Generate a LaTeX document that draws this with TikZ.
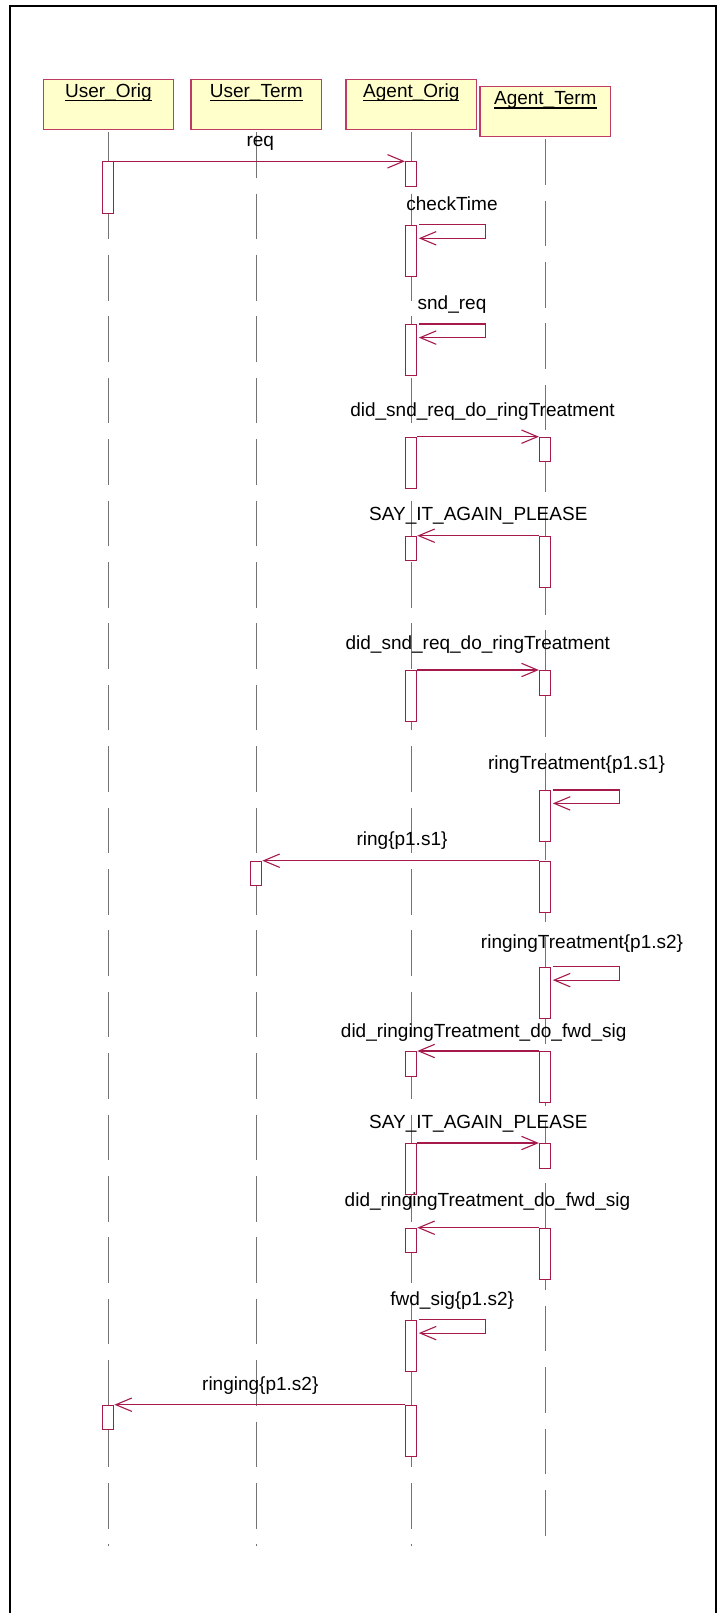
\documentclass[tikz,border=0pt]{standalone}
\usepackage{fontspec}
\setmainfont{Liberation Sans}
\usetikzlibrary{arrows.meta}
\definecolor{msgc}{RGB}{165,25,75}
\definecolor{hdrc}{RGB}{190,60,100}
\definecolor{hdrfill}{RGB}{255,255,204}
\definecolor{lifec}{RGB}{115,115,115}
\newcommand\myul[1]{\setbox0\hbox{#1}\rlap{\rule[-4.05pt]{\wd0}{1.3pt}}\box0}
\begin{document}
\begin{tikzpicture}[x=1pt,y=-1pt,
 hdr/.style={draw=hdrc,fill=hdrfill,line width=1.2pt,minimum width=130.6pt,minimum height=50.3pt,anchor=north,inner sep=0pt},
 lbl/.style={font=\fontsize{19}{22}\selectfont,anchor=base,inner sep=0pt,text=black},
 act/.style={draw=msgc,fill=white,line width=1pt,minimum width=11.4pt,anchor=north,inner sep=0pt},
 shortact/.style={act,minimum height=24.6pt},
 longact/.style={act,minimum height=51.3pt},
 life/.style={draw=lifec,line width=1.4pt,dash pattern=on 45.6pt off 15.8pt},
 msg/.style={draw=msgc,line width=1.1pt,-{Straight Barb[length=16pt,width=13.4pt]}},
 frame/.style={draw=black,line width=2pt}
]
\useasboundingbox (0,0) rectangle (717,1613);
% frame
\coordinate (f1) at (10,1613);
\coordinate (f2) at (10,6);
\coordinate (f3) at (716,6);
\coordinate (f4) at (716,1613);
\draw[frame] (f1) -- (f2) -- (f3) -- (f4);

% headers
\node[hdr] (uo) at (108.5,79) {};
\node[hdr] (ut) at (256.3,79) {};
\node[hdr] (ao) at (411.3,79) {};
\node[hdr] (at) at (545.3,85.7) {};
\node[lbl] (uot) at (108.5,97.3) {\myul{User\_Orig}};
\node[lbl] (utt) at (256.3,97.3) {\myul{User\_Term}};
\node[lbl] (aot) at (411.3,97.3) {\myul{Agent\_Orig}};
\node[lbl] (att) at (545.3,104.5) {\myul{Agent\_Term}};

% lifelines
\coordinate (uoe) at (108.5,1546);
\coordinate (ute) at (256.3,1546);
\coordinate (aoe) at (411.3,1546);
\coordinate (ate) at (545.3,1537);
\draw[life] (uo.south) ++(0,1.7) -- (uoe);
\draw[life] (ut.south) ++(0,1.7) -- (ute);
\draw[life] (ao.south) ++(0,1.7) -- (aoe);
\draw[life] (at.south) ++(0,2) -- (ate);

% activations: User_Orig
\node[longact] (a1) at (108.2,161.3) {};
\node[shortact] (a2) at (108.2,1404.7) {};
% User_Term
\node[shortact] (b1) at (256.1,860.7) {};
% Agent_Orig
\node[shortact] (c1) at (411.1,161.3) {};
\node[longact] (c2) at (411.1,224.7) {};
\node[longact] (c3) at (411.1,324) {};
\node[longact] (c4) at (411.1,436.7) {};
\node[shortact] (c5) at (411.1,535.7) {};
\node[longact] (c6) at (411.1,670) {};
\node[shortact] (c7) at (411.1,1051) {};
\node[longact] (c8) at (411.1,1143) {};
\node[shortact] (c9) at (411.1,1227.7) {};
\node[longact] (c10) at (411.1,1319.7) {};
\node[longact] (c11) at (411.1,1404.7) {};
% Agent_Term
\node[shortact] (d1) at (545.1,436.7) {};
\node[longact] (d2) at (545.1,535.7) {};
\node[shortact] (d3) at (545.1,670) {};
\node[longact] (d4) at (545.1,790) {};
\node[longact] (d5) at (545.1,860.7) {};
\node[longact] (d6) at (545.1,966.7) {};
\node[longact] (d7) at (545.1,1051) {};
\node[shortact] (d8) at (545.1,1143) {};
\node[longact] (d9) at (545.1,1227.7) {};

% messages
\draw[msg] (a1.north east) -- (c1.north west);
\draw[msg] ([xshift=1.5pt]c2.north east) -- ++(66.8,0) -- ++(0,13.6) -- ([xshift=1.5pt,yshift=-13.6pt]c2.north east);
\draw[msg] ([xshift=1.5pt]c3.north east) -- ++(66.8,0) -- ++(0,13.6) -- ([xshift=1.5pt,yshift=-13.6pt]c3.north east);
\draw[msg] (c4.north east) -- (d1.north west);
\draw[msg] (d2.north west) -- (c5.north east);
\draw[msg] (c6.north east) -- (d3.north west);
\draw[msg] ([xshift=1.5pt]d4.north east) -- ++(66.8,0) -- ++(0,13.4) -- ([xshift=1.5pt,yshift=-13.4pt]d4.north east);
\draw[msg] (d5.north west) -- (b1.north east);
\draw[msg] ([xshift=1.5pt]d6.north east) -- ++(66.8,0) -- ++(0,13.4) -- ([xshift=1.5pt,yshift=-13.4pt]d6.north east);
\draw[msg] (d7.north west) -- (c7.north east);
\draw[msg] (c8.north east) -- (d8.north west);
\draw[msg] (d9.north west) -- (c9.north east);
\draw[msg] ([xshift=1.5pt]c10.north east) -- ++(66.8,0) -- ++(0,13.4) -- ([xshift=1.5pt,yshift=-13.4pt]c10.north east);
\draw[msg] (c11.north west) -- (a2.north east);

% labels
\node[lbl] (m1) at (260.3,147) {req};
\node[lbl] (m2) at (452,211) {checkTime};
\node[lbl] (m3) at (452,309) {snd\_req};
\node[lbl] (m4) at (482.5,416.7) {did\_snd\_req\_do\_ringTreatment};
\node[lbl] (m5) at (478.3,520.7) {SAY\_IT\_AGAIN\_PLEASE};
\node[lbl] (m6) at (477.8,649) {did\_snd\_req\_do\_ringTreatment};
\node[lbl] (m7) at (576.5,769.3) {ringTreatment\{p1.s1\}};
\node[lbl] (m8) at (402,845.7) {ring\{p1.s1\}};
\node[lbl] (m9) at (582,948) {ringingTreatment\{p1.s2\}};
\node[lbl] (m10) at (483.7,1037.3) {did\_ringingTreatment\_do\_fwd\_sig};
\node[lbl] (m11) at (478.3,1128.3) {SAY\_IT\_AGAIN\_PLEASE};
\node[lbl] (m12) at (487.5,1206) {did\_ringingTreatment\_do\_fwd\_sig};
\node[lbl] (m13) at (452.2,1305) {fwd\_sig\{p1.s2\}};
\node[lbl] (m14) at (260.3,1390) {ringing\{p1.s2\}};
\end{tikzpicture}
\end{document}
